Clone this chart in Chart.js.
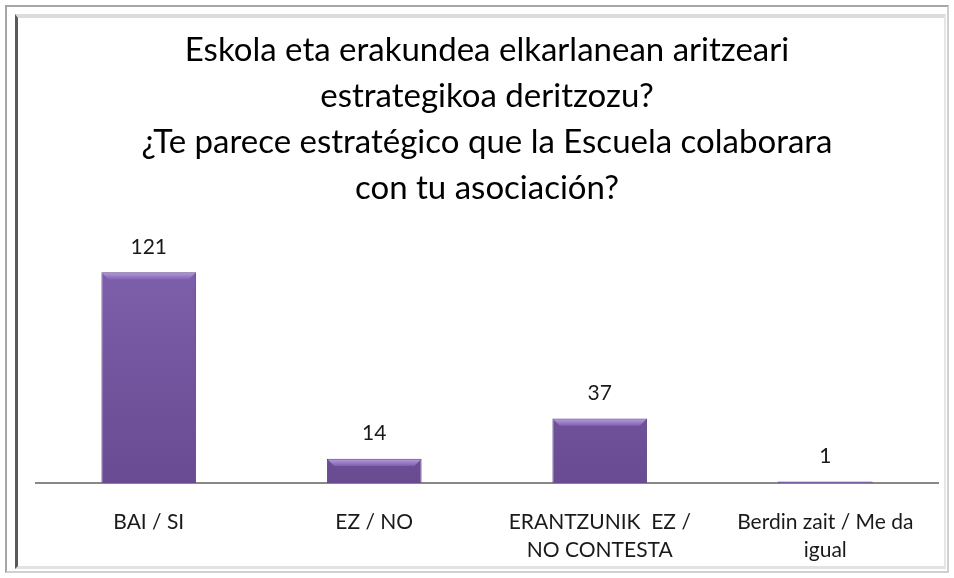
<!DOCTYPE html>
<html>
<head>
<meta charset="utf-8">
<script src="https://cdn.jsdelivr.net/npm/chart.js@4/dist/chart.umd.min.js"></script>
<style>
  html, body { margin: 0; padding: 0; background: #fff; }
  #wrap { position: relative; width: 954px; height: 578px; overflow: hidden; }
  #outer { position: absolute; left: 5px; top: 5px; width: 940px; height: 564px;
    border: 2px solid #a6a6a6; border-right-color: #d0d0d0; border-bottom-color: #d0d0d0; }
  #inner { position: absolute; left: 15px; top: 14px; width: 926px; height: 548px;
    border-left: 3px solid #5a5a5a; border-top: 4px solid #dcdcdc;
    border-bottom: 3px solid #e2e2e2; border-right: 2px solid #e6e6e6; }
  canvas { position: absolute; left: 0; top: 0; }
</style>
</head>
<body>
<div id="wrap">
  <div id="outer"></div>
  <div id="inner"></div>
  <canvas id="chart" width="954" height="589"></canvas>
</div>
<script>
const titleLines = [
  "Eskola eta erakundea elkarlanean aritzeari",
  "estrategikoa deritzozu?",
  "¿Te parece estratégico que la Escuela colaborara",
  "con tu asociación?"
];
const categories = [
  ["BAI / SI"],
  ["EZ / NO"],
  ["ERANTZUNIK  EZ /", "NO CONTESTA"],
  ["Berdin zait / Me da", "igual"]
];
const answers = [121, 14, 37, 1];

const font = "Lato, 'Open Sans', sans-serif";

// value labels above each bar + light bevel on the bar tops
const barExtras = {
  id: "barExtras",
  afterDatasetsDraw(chart) {
    const ctx = chart.ctx;
    const meta = chart.getDatasetMeta(0);
    ctx.save();
    meta.data.forEach((bar) => {
      const h = Math.min(6, bar.base - bar.y - 1);
      if (h <= 0) return;
      const left = bar.x - bar.width / 2 + 1;
      const g = ctx.createLinearGradient(0, bar.y, 0, bar.y + h);
      g.addColorStop(0, "#b9a0e2");
      g.addColorStop(1, "#8a6bb8");
      ctx.fillStyle = g;
      ctx.beginPath();
      ctx.moveTo(left, bar.y + 1);
      ctx.lineTo(left + bar.width - 2, bar.y + 1);
      ctx.lineTo(left + bar.width - 2 - h, bar.y + 1 + h);
      ctx.lineTo(left + h, bar.y + 1 + h);
      ctx.closePath();
      ctx.fill();
    });
    ctx.font = "21px " + font;
    ctx.fillStyle = "#1a1a1a";
    ctx.textAlign = "center";
    ctx.textBaseline = "middle";
    meta.data.forEach((bar, i) => {
      ctx.fillText(String(answers[i]), bar.x, bar.y - 25);
    });
    ctx.restore();
  }
};

const ctx = document.getElementById("chart");
const chart = new Chart(ctx, {
  type: "bar",
  data: {
    labels: categories,
    datasets: [
      {
        data: answers,
        backgroundColor: (c) => {
          const area = c.chart.chartArea;
          if (!area) return "#7459a0";
          const g = c.chart.ctx.createLinearGradient(0, area.top, 0, area.bottom);
          g.addColorStop(0, "#8061ae");
          g.addColorStop(1, "#684b91");
          return g;
        },
        borderColor: "#5b4282",
        borderWidth: 1,
        categoryPercentage: 0.42,
        barPercentage: 1,
      },
    ],
  },
  options: {
    responsive: false,
    animation: false,
    layout: { padding: { top: 27, left: 36, right: 16, bottom: 0 } },
    plugins: {
      legend: { display: false },
      tooltip: { enabled: false },
      title: {
        display: true,
        text: titleLines,
        color: "#000",
        font: { family: font, size: 33, weight: "normal", lineHeight: 1.394 },
        padding: { top: 0, bottom: 28 },
      },
    },
    scales: {
      x: {
        grid: { display: false, drawTicks: false },
        border: { display: true, color: "#888", width: 2 },
        ticks: {
          color: "#1a1a1a",
          padding: 25,
          maxRotation: 0,
          autoSkip: false,
          font: { family: font, size: 21, lineHeight: 1.33 },
        },
      },
      y: {
        display: false,
        min: 0,
        max: 140,
      },
    },
  },
  plugins: [barExtras],
});
</script>
</body>
</html>
